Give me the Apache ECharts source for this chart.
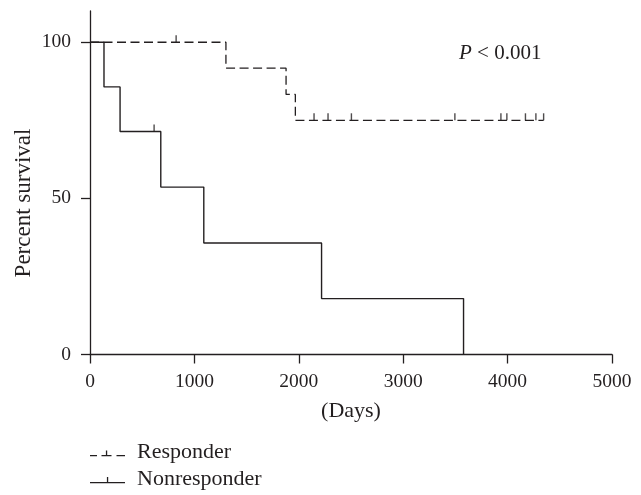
<!DOCTYPE html>
<html>
<head>
<meta charset="utf-8">
<script src="https://cdn.jsdelivr.net/npm/echarts@6/dist/echarts.min.js"></script>
<style>html,body{margin:0;padding:0;background:#fff;}#c{width:641px;height:495px;}</style>
</head>
<body>
<div id="c"></div>
<script>
// Kaplan–Meier step points (days, percent survival)
const responderDays = [0, 1302, 1878, 1967, 4345];
const responderSurv = [100, 91.7, 83.3, 75, 75];
const responderCensorDays = [825, 2146, 2280, 2504, 3495, 3936, 3993, 4171, 4271, 4345];
const responderCensorSurv = [100, 75, 75, 75, 75, 75, 75, 75, 75, 75];

const nonresponderDays = [0, 134, 288, 678, 1090, 2218, 3578];
const nonresponderSurv = [100, 85.7, 71.4, 53.6, 35.7, 17.9, 0];
const nonresponderCensorDays = [614];
const nonresponderCensorSurv = [71.4];

const xTicks = [0, 1000, 2000, 3000, 4000, 5000];
const yTicks = [0, 50, 100];
const seriesNames = ['Responder', 'Nonresponder'];

const INK = '#231f20';
const FONT = '"Liberation Serif", "DejaVu Serif", serif';
const NUM_SIZE = 19.5;
const WORD_SIZE = 22;

function zip(a, b) { return a.map((v, i) => [v, b[i]]); }

const iconN = 'path://M0,0h0.02v0.02h-0.02Z M34.98,15.98h0.02v0.02h-0.02Z M0,11H35V12.3H0Z M16.9,6H18.2V11.5H16.9Z';
const iconR = 'path://M0,0h0.02v0.02h-0.02Z M34.98,15.98h0.02v0.02h-0.02Z M0,11H7V12.3H0Z M11.5,11H21.5V12.3H11.5Z M15.9,6.5H17.2V11.5H15.9Z M26.5,11H35V12.3H26.5Z';

const chart = echarts.init(document.getElementById('c'), null, {renderer: 'canvas'});
chart.setOption({
  animation: false,
  backgroundColor: '#fff',
  grid: {left: 90, right: 29, top: 11, bottom: 140.5, containLabel: false, outerBoundsMode: 'none'},
  title: {
    text: '{i|P} < 0.001',
    left: 454, top: 38,
    textStyle: {fontFamily: FONT, fontSize: 21, fontWeight: 'normal', color: INK,
      rich: {i: {fontFamily: FONT, fontSize: 21, fontStyle: 'italic', color: INK}}}
  },
  legend: {
    orient: 'vertical', left: 90, top: 441,
    itemWidth: 35, itemHeight: 16, itemGap: 5,
    padding: 0,
    textStyle: {fontFamily: FONT, fontSize: WORD_SIZE, color: INK, padding: [0, 0, 0, 7]},
    itemStyle: {color: INK, borderWidth: 0},
    data: [{name: seriesNames[0], icon: iconR}, {name: seriesNames[1], icon: iconN}]
  },
  xAxis: {
    type: 'value', min: 0, max: 5000, interval: 1000,
    name: '(Days)', nameLocation: 'middle', nameGap: 46,
    nameTextStyle: {fontFamily: FONT, fontSize: WORD_SIZE, color: INK},
    axisLine: {show: true, lineStyle: {color: INK, width: 1.3}},
    axisTick: {show: true, length: 9, lineStyle: {color: INK, width: 1.3}},
    axisLabel: {fontFamily: FONT, fontSize: NUM_SIZE, color: INK, margin: 17, formatter: v => String(v)},
    splitLine: {show: false}
  },
  yAxis: {
    type: 'value', min: 0, max: 110, interval: 50,
    axisLine: {show: true, lineStyle: {color: INK, width: 1.3}},
    axisTick: {show: true, length: 9, lineStyle: {color: INK, width: 1.3}, customValues: yTicks},
    axisLabel: {fontFamily: FONT, fontSize: NUM_SIZE, color: INK, margin: 19, customValues: yTicks, formatter: v => String(v)},
    splitLine: {show: false}
  },
  graphic: [{
    type: 'text', x: 24, y: 203, rotation: Math.PI / 2,
    style: {text: 'Percent survival', fontFamily: FONT, fontSize: 23, fill: INK, align: 'center', verticalAlign: 'middle'}
  }],
  series: [
    {
      name: seriesNames[0], type: 'line', step: 'end', showSymbol: false, symbol: 'none',
      data: zip(responderDays, responderSurv),
      lineStyle: {color: INK, width: 1.3, type: [9, 4.5]},
      itemStyle: {color: INK}, z: 3
    },
    {
      name: seriesNames[1], type: 'line', step: 'end', showSymbol: false, symbol: 'none',
      data: zip(nonresponderDays, nonresponderSurv),
      lineStyle: {color: INK, width: 1.4},
      itemStyle: {color: INK}, z: 3
    },
    {
      name: 'Responder censored', type: 'scatter', symbol: 'rect', symbolSize: [1.4, 7], symbolOffset: [0, -3.5],
      data: zip(responderCensorDays, responderCensorSurv), itemStyle: {color: INK}, z: 4
    },
    {
      name: 'Nonresponder censored', type: 'scatter', symbol: 'rect', symbolSize: [1.4, 7], symbolOffset: [0, -3.5],
      data: zip(nonresponderCensorDays, nonresponderCensorSurv), itemStyle: {color: INK}, z: 4
    }
  ]
});
</script>
</body>
</html>
